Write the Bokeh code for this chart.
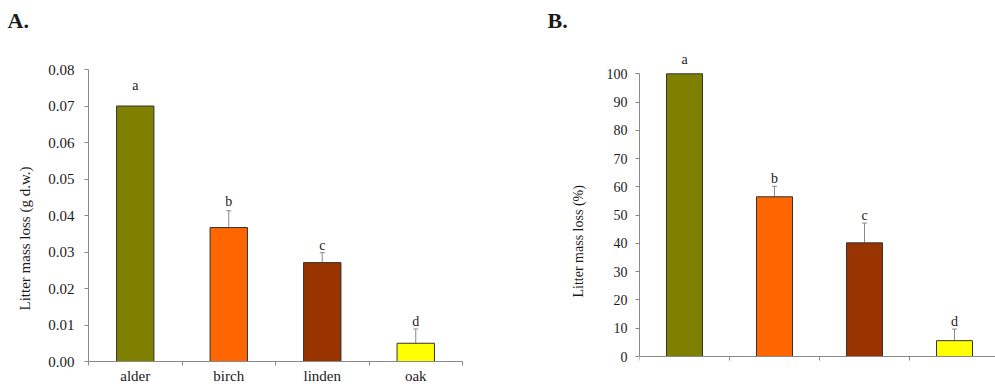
from bokeh.plotting import figure
from bokeh.layouts import row
from bokeh.models import (ColumnDataSource, FixedTicker, NumeralTickFormatter,
                          Range1d, LabelSet, Whisker, TeeHead, Title)
from bokeh.embed import file_html
from bokeh.resources import INLINE

# ---------------- data ----------------
species = ["alder", "birch", "linden", "oak"]
bar_colors = ["#808000", "#FF6600", "#993300", "#FFFF00"]
letters = ["a", "b", "c", "d"]

# panel A: litter mass loss (g d.w.)
loss_g = [0.0700, 0.0367, 0.0271, 0.0050]
loss_g_se = [0.0, 0.0046, 0.0027, 0.0039]
loss_g_letter_y = [0.0756, 0.0437, 0.0319, 0.0109]
y_ticks_g = [0.00, 0.01, 0.02, 0.03, 0.04, 0.05, 0.06, 0.07, 0.08]

# panel B: litter mass loss (%)
loss_pct = [100.0, 56.5, 40.2, 5.6]
loss_pct_se = [0.0, 3.7, 7.0, 4.1]
loss_pct_letter_y = [105.0, 62.9, 49.9, 12.4]
y_ticks_pct = [0, 10, 20, 30, 40, 50, 60, 70, 80, 90, 100]

FONT = "Liberation Serif"
AXIS_GRAY = "#8a8a8a"
TEXT = "#1a1a1a"
HEIGHT = 387
FRAME_TOP = 50
FRAME_BOTTOM = 361
HAS_STANDOFF = "standoff" in Title.properties()


def make_panel(values, errs, letter_y, y_ticks, fmt, ylabel, tag,
               width, border_left, border_right, x_end, zero_px, top_px,
               tick_fs, cat_fs, cat_standoff, label_fs, label_standoff,
               label_start, tick_standoff, tag_dx, fixed_x_axis):
    ymax = y_ticks[-1]
    scale = (zero_px - top_px) / ymax          # px per data unit
    y_start = min(0.0, -(FRAME_BOTTOM - zero_px) / scale)
    y_end = (zero_px - FRAME_TOP) / scale
    p = figure(width=width, height=HEIGHT, output_backend="svg",
               toolbar_location=None, x_range=Range1d(0, x_end),
               y_range=Range1d(y_start, y_end),
               min_border_left=border_left, min_border_right=border_right,
               min_border_top=FRAME_TOP,
               min_border_bottom=HEIGHT - FRAME_BOTTOM)
    p.outline_line_color = None
    p.xgrid.visible = False
    p.ygrid.visible = False
    p.background_fill_color = "white"
    p.border_fill_color = "white"

    n = len(species)
    centers = [i + 0.5 for i in range(n)]
    src = ColumnDataSource(dict(x=centers, top=values, color=bar_colors,
                                letter=letters, ly=letter_y))
    p.vbar(x="x", top="top", width=0.4, fill_color="color",
           line_color="#333333", line_width=1, source=src)

    # error bars (upper only)
    ex, eb, eu = [], [], []
    for c, v, e in zip(centers, values, errs):
        if e > 0:
            ex.append(c); eb.append(v); eu.append(v + e)
    esrc = ColumnDataSource(dict(x=ex, base=eb, upper=eu))
    p.add_layout(Whisker(source=esrc, base="x", lower="base", upper="upper",
                         dimension="height", line_color=AXIS_GRAY, line_width=1,
                         upper_head=TeeHead(size=5, line_color=AXIS_GRAY,
                                            line_width=1),
                         lower_head=None))

    # significance letters
    p.add_layout(LabelSet(x="x", y="ly", text="letter", source=src,
                          text_align="center", text_baseline="middle",
                          text_font=FONT, text_font_size="14px",
                          text_color=TEXT))

    # x axis: labels at category centres, ticks at category borders
    xa = p.xaxis[0]
    xa.ticker = FixedTicker(ticks=centers, minor_ticks=list(range(n + 1)))
    xa.major_label_overrides = {c: s for c, s in zip(centers, species)}
    xa.axis_line_color = AXIS_GRAY
    xa.major_tick_out = 0
    xa.major_tick_in = 0
    xa.minor_tick_out = 4
    xa.minor_tick_in = 0
    xa.minor_tick_line_color = AXIS_GRAY
    xa.major_label_standoff = cat_standoff
    xa.major_label_text_font = FONT
    xa.major_label_text_font_size = cat_fs
    xa.major_label_text_color = TEXT
    if fixed_x_axis:
        xa.fixed_location = 0

    ya = p.yaxis[0]
    ya.ticker = FixedTicker(ticks=y_ticks)
    ya.formatter = NumeralTickFormatter(format=fmt)
    ya.bounds = (0, ymax)
    ya.axis_line_color = AXIS_GRAY
    ya.major_tick_line_color = AXIS_GRAY
    ya.major_tick_out = 4
    ya.major_tick_in = 0
    ya.minor_tick_line_color = None
    ya.major_label_standoff = tick_standoff
    ya.major_label_text_font = FONT
    ya.major_label_text_font_size = tick_fs
    ya.major_label_text_color = TEXT

    # y axis title as a vertical title in the left panel
    yt = Title(text=ylabel, align="left", offset=label_start,
               text_font=FONT, text_font_size=label_fs,
               text_font_style="normal", text_color=TEXT)
    if HAS_STANDOFF:
        yt.standoff = label_standoff
    p.add_layout(yt, "left")

    # panel tag: an empty spacer title next to the frame, the tag above it
    p.title.text = ""
    p.title.text_font_size = "1px"
    if HAS_STANDOFF:
        p.title.standoff = 0
    spacer = Title(text=" ", text_font_size="1px", text_color="white")
    if HAS_STANDOFF:
        spacer.standoff = 15
    p.add_layout(spacer, "above")
    tg = Title(text=tag, align="left", offset=tag_dx, text_font=FONT,
               text_font_size="22px", text_font_style="bold",
               text_color=TEXT)
    if HAS_STANDOFF:
        tg.standoff = 0
    p.add_layout(tg, "above")
    return p


pa = make_panel(loss_g, loss_g_se, loss_g_letter_y, y_ticks_g, "0.00",
                "Litter mass loss (g d.w.)", "A.",
                width=540, border_left=88, border_right=78, x_end=4,
                zero_px=361, top_px=69,
                tick_fs="15px", cat_fs="15px", cat_standoff=2,
                label_fs="15px", label_standoff=26, label_start=51,
                tick_standoff=10, tag_dx=-81, fixed_x_axis=False)

pb = make_panel(loss_pct, loss_pct_se, loss_pct_letter_y, y_ticks_pct, "0",
                "Litter mass loss (%)", "B.",
                width=455, border_left=99, border_right=0, x_end=356 / 90,
                zero_px=356, top_px=73.3,
                tick_fs="14px", cat_fs="14px", cat_standoff=3,
                label_fs="14px", label_standoff=36, label_start=64,
                tick_standoff=8, tag_dx=-92, fixed_x_axis=True)

layout = row(pa, pb, spacing=0)
open("out.html", "w").write(file_html(layout, INLINE))
